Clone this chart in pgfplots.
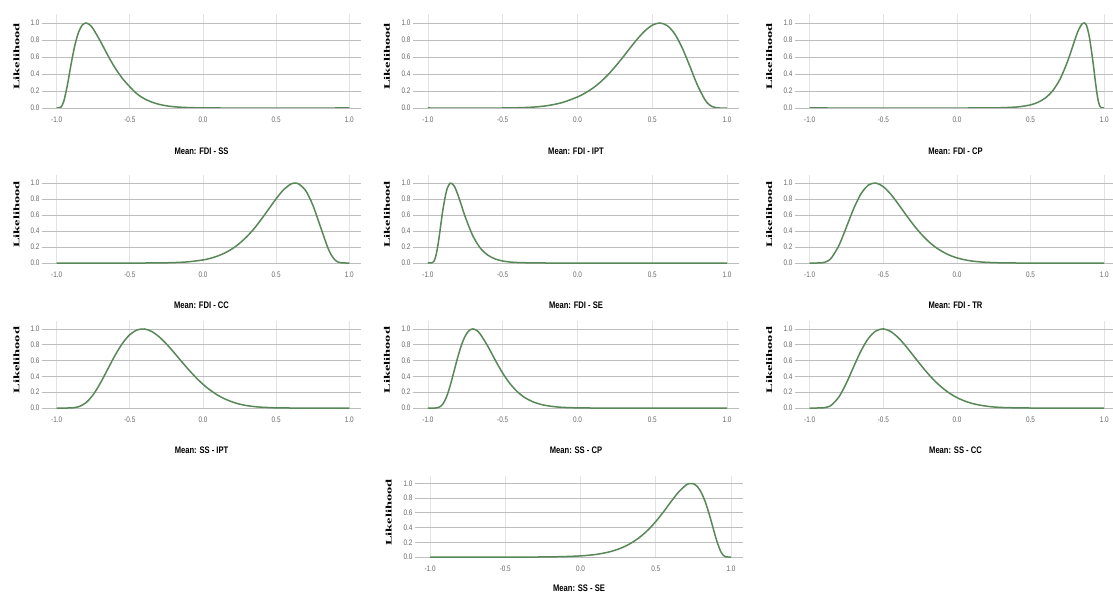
\documentclass[border=0pt]{standalone}
\usepackage{fontspec}
\setmainfont{Liberation Sans}
\newfontfamily\condfont[FakeStretch=0.8]{Liberation Sans}
\newfontfamily\serifb{Liberation Serif}
\usepackage{graphicx}
\usepackage{pgfplots}
\pgfplotsset{compat=1.18}

\definecolor{curve}{RGB}{88,135,88}
\definecolor{tickgray}{RGB}{105,105,105}

\pgfplotsset{
  lk/.style={
    scale only axis,
    anchor=south west,
    xmin=-1.1, xmax=1.08, ymin=0, ymax=1.1,
    xtick={-1,-0.5,0,0.5,1},
    xticklabels={-1.0,-0.5,0.0,0.5,1.0},
    ytick={0,0.2,0.4,0.6,0.8,1},
    yticklabels={0.0,0.2,0.4,0.6,0.8,1.0},
    xmajorgrids, ymajorgrids,
    x grid style={gray!22, line width=0.6pt},
    y grid style={gray!52, line width=0.8pt},
    extra y ticks={0},
    extra y tick labels={},
    extra y tick style={grid style={gray!85, line width=1pt}},
    axis line style={draw=none},
    tick style={draw=none},
    ticklabel style={font=\condfont\fontsize{8}{8}\selectfont, text=tickgray},
    xticklabel style={yshift=-5pt},
    yticklabel style={xshift=1pt},
    xlabel style={at={(axis description cs:0.5,0)}, anchor=center, yshift=-43pt,
      font=\condfont\bfseries\fontsize{9.5}{10}\selectfont},
    ylabel={\scalebox{1.7}[1]{Likelihood}},
    ylabel style={at={(axis description cs:-0.08,0.55)}, anchor=center,
      font=\serifb\bfseries\fontsize{8.5}{9}\selectfont},
  },
  cv/.style={curve, line width=1.5pt, smooth, tension=0.5, no marks},
}

\begin{document}
\begin{tikzpicture}[x=1pt,y=1pt]
\fill[white] (0,0) rectangle (1113,598);
\useasboundingbox (0,0) rectangle (1113,598);

% row 1
\begin{axis}[lk, at={(42pt,490pt)}, width=319pt, height=93.5pt, xlabel={Mean: FDI - SS}]
\addplot[cv] coordinates {
(-1,0) (-0.99,0) (-0.97,0.011) (-0.95,0.085) (-0.925,0.283) (-0.9,0.527) (-0.875,0.741)
(-0.85,0.892) (-0.825,0.975) (-0.8,1.0) (-0.775,0.980) (-0.75,0.930) (-0.7,0.782)
(-0.65,0.619) (-0.6,0.470) (-0.55,0.347) (-0.5,0.250) (-0.45,0.165) (-0.4,0.108)
(-0.35,0.070) (-0.3,0.043) (-0.25,0.026) (-0.2,0.015) (-0.15,0.009) (-0.1,0.005)
(0,0.001) (0.1,0) (1,0)};
\end{axis}

\begin{axis}[lk, at={(413pt,490pt)}, width=326pt, height=93.5pt, xlabel={Mean: FDI - IPT}]
\addplot[cv] coordinates {
(-1,0) (-0.5,0) (-0.4,0.003) (-0.3,0.010) (-0.2,0.028) (-0.1,0.065) (0,0.130)
(0.05,0.175) (0.1,0.230) (0.15,0.300) (0.2,0.384) (0.25,0.482) (0.3,0.589) (0.35,0.702)
(0.4,0.811) (0.45,0.906) (0.5,0.974) (0.55,1.0) (0.6,0.969) (0.65,0.872) (0.7,0.708)
(0.75,0.497) (0.8,0.277) (0.85,0.104) (0.875,0.049) (0.9,0.017) (0.925,0.004)
(0.95,0) (1,0)};
\end{axis}

\begin{axis}[lk, at={(795pt,490pt)}, width=321pt, height=93.5pt, xlabel={Mean: FDI - CP}]
\addplot[cv] coordinates {
(-1,0) (0.1,0) (0.2,0.001) (0.3,0.003) (0.4,0.011) (0.45,0.021) (0.5,0.037) (0.55,0.067)
(0.6,0.118) (0.65,0.203) (0.7,0.340) (0.75,0.544) (0.8,0.799) (0.825,0.917) (0.85,0.992)
(0.865,1.0) (0.88,0.970) (0.9,0.826) (0.925,0.524) (0.9375,0.343) (0.95,0.178)
(0.96,0.079) (0.97,0.022) (0.98,0.003) (0.99,0) (1,0)};
\end{axis}

% row 2
\begin{axis}[lk, at={(42pt,335pt)}, width=319pt, height=88pt, xlabel={Mean: FDI - CC}, xlabel style={yshift=1pt}]
\addplot[cv] coordinates {
(-1,0) (-0.4,0) (-0.3,0.001) (-0.2,0.005) (-0.1,0.015) (0,0.038) (0.05,0.058) (0.1,0.087)
(0.15,0.126) (0.2,0.178) (0.25,0.246) (0.3,0.330) (0.35,0.431) (0.4,0.549) (0.45,0.676)
(0.5,0.803) (0.55,0.914) (0.6,0.986) (0.63,1.0) (0.65,0.993) (0.7,0.910) (0.75,0.727)
(0.8,0.468) (0.85,0.207) (0.875,0.107) (0.9,0.042) (0.925,0.010) (0.95,0.001) (1,0)};
\end{axis}

\begin{axis}[lk, at={(413pt,335pt)}, width=326pt, height=88pt, xlabel={Mean: FDI - SE}, xlabel style={yshift=1pt}]
\addplot[cv] coordinates {
(-1,0) (-0.97,0.004) (-0.96,0.022) (-0.95,0.069) (-0.9375,0.176) (-0.925,0.328)
(-0.9,0.665) (-0.875,0.908) (-0.85,0.998) (-0.825,0.963) (-0.8,0.854) (-0.775,0.714)
(-0.75,0.573) (-0.7,0.340) (-0.65,0.187) (-0.6,0.099) (-0.55,0.050) (-0.5,0.025)
(-0.45,0.012) (-0.4,0.006) (-0.3,0.001) (-0.2,0) (1,0)};
\end{axis}

\begin{axis}[lk, at={(795pt,335pt)}, width=321pt, height=88pt, xlabel={Mean: FDI - TR}, xlabel style={yshift=1pt}]
\addplot[cv] coordinates {
(-1,0) (-0.95,0) (-0.925,0.001) (-0.9,0.008) (-0.875,0.028) (-0.85,0.070) (-0.8,0.226)
(-0.75,0.453) (-0.7,0.686) (-0.65,0.870) (-0.6,0.976) (-0.55,0.999) (-0.5,0.953)
(-0.45,0.860) (-0.4,0.740) (-0.35,0.612) (-0.3,0.488) (-0.25,0.376) (-0.2,0.281)
(-0.15,0.203) (-0.1,0.143) (-0.05,0.097) (0,0.064) (0.05,0.041) (0.1,0.025)
(0.15,0.015) (0.2,0.008) (0.3,0.002) (0.4,0) (1,0)};
\end{axis}

% row 3
\begin{axis}[lk, at={(42pt,190pt)}, width=319pt, height=87pt, xlabel={Mean: SS - IPT}, xlabel style={yshift=1pt}]
\addplot[cv] coordinates {
(-1,0) (-0.925,0) (-0.9,0.001) (-0.85,0.016) (-0.8,0.066) (-0.75,0.169) (-0.7,0.318)
(-0.65,0.494) (-0.6,0.668) (-0.55,0.818) (-0.5,0.927) (-0.45,0.987) (-0.4,0.999)
(-0.35,0.967) (-0.3,0.901) (-0.25,0.810) (-0.2,0.706) (-0.15,0.596) (-0.1,0.489)
(-0.05,0.389) (0,0.300) (0.05,0.225) (0.1,0.163) (0.15,0.114) (0.2,0.077) (0.25,0.049)
(0.3,0.030) (0.35,0.018) (0.4,0.010) (0.5,0.002) (0.6,0) (1,0)};
\end{axis}

\begin{axis}[lk, at={(413pt,190pt)}, width=326pt, height=87pt, xlabel={Mean: SS - CP}, xlabel style={yshift=1pt}]
\addplot[cv] coordinates {
(-1,0) (-0.95,0) (-0.925,0.010) (-0.9,0.051) (-0.875,0.145) (-0.85,0.292) (-0.825,0.469)
(-0.8,0.647) (-0.775,0.800) (-0.75,0.913) (-0.725,0.979) (-0.7,1.0) (-0.675,0.982)
(-0.65,0.934) (-0.6,0.782) (-0.55,0.605) (-0.5,0.440) (-0.45,0.305) (-0.4,0.202)
(-0.35,0.129) (-0.3,0.080) (-0.25,0.048) (-0.2,0.028) (-0.15,0.016) (-0.1,0.008)
(0,0.002) (0.1,0) (1,0)};
\end{axis}

\begin{axis}[lk, at={(795pt,190pt)}, width=321pt, height=87pt, xlabel={Mean: SS - CC}, xlabel style={yshift=1pt}]
\addplot[cv] coordinates {
(-1,0) (-0.95,0) (-0.925,0.001) (-0.9,0.004) (-0.875,0.015) (-0.85,0.040) (-0.8,0.145)
(-0.75,0.319) (-0.7,0.529) (-0.65,0.729) (-0.6,0.884) (-0.55,0.975) (-0.5,1.0)
(-0.45,0.967) (-0.4,0.891) (-0.35,0.788) (-0.3,0.671) (-0.25,0.553) (-0.2,0.441)
(-0.15,0.341) (-0.1,0.256) (-0.05,0.186) (0,0.131) (0.05,0.090) (0.1,0.059)
(0.15,0.038) (0.2,0.023) (0.25,0.013) (0.3,0.007) (0.4,0.002) (0.5,0) (1,0)};
\end{axis}

% row 4
\begin{axis}[lk, at={(415pt,41pt)}, width=328pt, height=81pt, xlabel={Mean: SS - SE}, xlabel style={yshift=12pt}]
\addplot[cv] coordinates {
(-1,0) (-0.3,0) (-0.2,0.002) (-0.1,0.006) (0,0.015) (0.05,0.023) (0.1,0.034) (0.15,0.051)
(0.2,0.074) (0.25,0.106) (0.3,0.149) (0.35,0.206) (0.4,0.279) (0.45,0.370) (0.5,0.481)
(0.55,0.609) (0.6,0.747) (0.65,0.878) (0.7,0.975) (0.725,0.998) (0.75,0.995) (0.775,0.960)
(0.8,0.886) (0.825,0.772) (0.85,0.619) (0.875,0.440) (0.9,0.257) (0.925,0.107) (0.9375,0.055)
(0.95,0.022) (0.96,0.008) (0.97,0.002) (0.98,0) (1,0)};
\end{axis}
\end{tikzpicture}
\end{document}
